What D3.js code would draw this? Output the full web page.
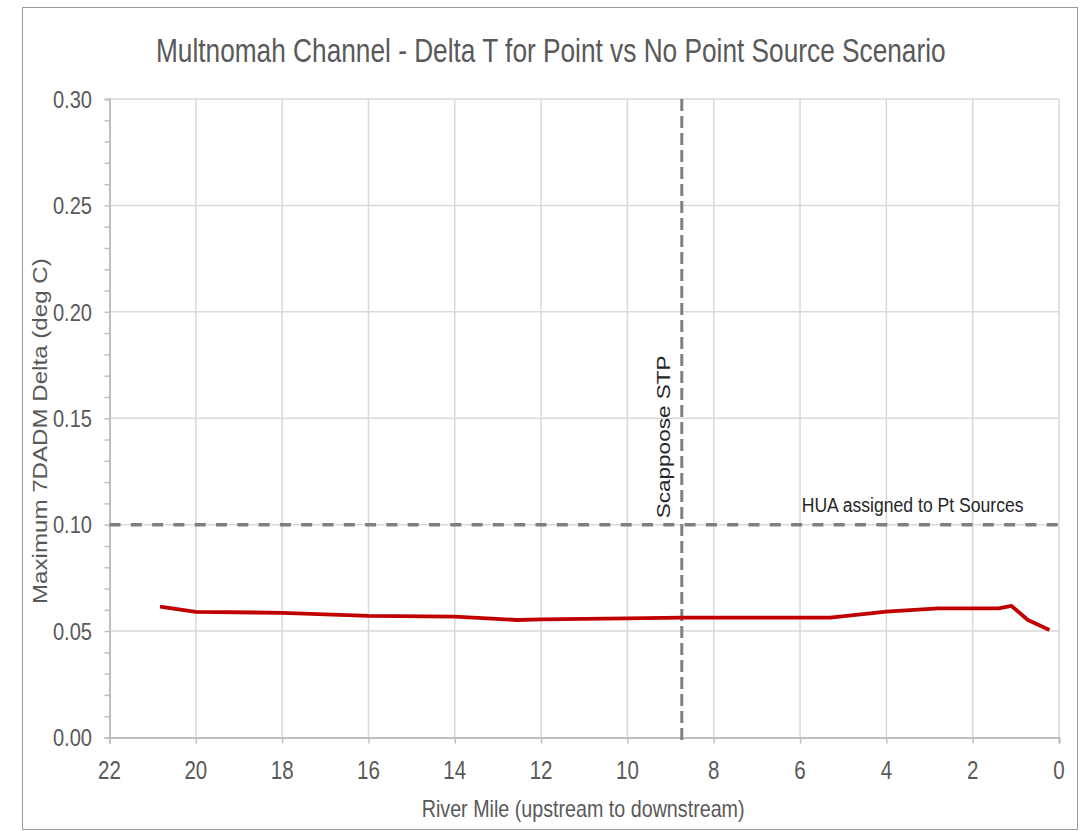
<!DOCTYPE html>
<html><head><meta charset="utf-8">
<script src="https://cdn.jsdelivr.net/npm/d3@7"></script>
<style>body{margin:0;background:#fff}svg{display:block}text{font-family:"Liberation Sans",Arial,sans-serif}</style>
</head><body>
<svg id="c" width="1089" height="831"></svg>
<script>
const riverMile = [20.83, 20.0, 18.0, 16.0, 14.0, 12.56, 12.0, 10.0, 8.74, 6.0, 5.3, 4.0, 2.8, 1.4, 1.1, 0.72, 0.22];
const deltaT    = [0.0615, 0.0590, 0.0586, 0.0571, 0.0568, 0.0552, 0.0555, 0.0560, 0.0563, 0.0563, 0.0563, 0.0591, 0.0607, 0.0607, 0.0618, 0.0552, 0.0505];
const xTicks = [22, 20, 18, 16, 14, 12, 10, 8, 6, 4, 2, 0];
const yTicks = [0, 0.05, 0.10, 0.15, 0.20, 0.25, 0.30];
const yMinor = d3.range(0, 0.3001, 0.01);
const stpMile = 8.74;
const huaValue = 0.10;
const titleText = "Multnomah Channel - Delta T for Point vs No Point Source Scenario";
const xTitle = "River Mile (upstream to downstream)";
const yTitle = "Maximum 7DADM Delta (deg C)";

const svg = d3.select("#c");
const x = d3.scaleLinear().domain([22, 0]).range([109.5, 1059]);
const y = d3.scaleLinear().domain([0, 0.3]).range([737.5, 99]);
const SX = 0.82;
const txt = "#595959";

// place text so that its natural length is scaled to a target length along its own axis
function fitText(g, str, size, fill, target, pre, post) {
  const t = g.append("text").attr("font-size", size).attr("fill", fill).text(str);
  const k = target / t.node().getComputedTextLength();
  t.attr("transform", `${pre} ${post || ""} scale(${k},1)`);
  return t;
}

svg.append("rect").attr("x", 22.5).attr("y", 7.5).attr("width", 1055).attr("height", 822)
  .attr("fill", "#fff").attr("stroke", "#9a9a9a").attr("stroke-width", 1);

// gridlines
svg.append("g").selectAll("line").data(yTicks.slice(1)).join("line")
  .attr("x1", x(22)).attr("x2", x(0)).attr("y1", d => y(d)).attr("y2", d => y(d))
  .attr("stroke", "#d9d9d9").attr("stroke-width", 1.5);
svg.append("g").selectAll("line").data(xTicks.slice(1)).join("line")
  .attr("x1", d => x(d)).attr("x2", d => x(d)).attr("y1", y(0)).attr("y2", y(0.3))
  .attr("stroke", "#d9d9d9").attr("stroke-width", 1.5);

// axes
const yAxis = svg.append("g").attr("transform", `translate(${x(22)},0)`)
  .call(d3.axisLeft(y).tickValues(yMinor).tickSize(5).tickFormat(""));
yAxis.select(".domain").attr("stroke", "#bfbfbf").attr("stroke-width", 2);
yAxis.selectAll(".tick line").attr("stroke", "#bfbfbf").attr("stroke-width", 1.5);

const xAxis = svg.append("g").attr("transform", `translate(0,${y(0)})`)
  .call(d3.axisBottom(x).tickValues(xTicks).tickSize(6).tickFormat(""));
xAxis.select(".domain").attr("stroke", "#bfbfbf").attr("stroke-width", 2);
xAxis.selectAll(".tick line").attr("stroke", "#bfbfbf").attr("stroke-width", 1.5);

// tick labels
svg.append("g").selectAll("text").data(yTicks).join("text")
  .attr("transform", d => `translate(92,${y(d) + 8.7}) scale(${SX},1)`)
  .attr("text-anchor", "end").attr("font-size", 24.5).attr("fill", txt)
  .text(d => d3.format(".2f")(d));
svg.append("g").selectAll("text").data(xTicks).join("text")
  .attr("transform", d => `translate(${x(d)},778.5) scale(${SX},1)`)
  .attr("text-anchor", "middle").attr("font-size", 25).attr("fill", txt)
  .text(d => d);

// titles
fitText(svg, titleText, 34, txt, 790, "translate(156,61.7)");
fitText(svg, xTitle, 23, txt, 323, "translate(421.7,816.7)");
fitText(svg, yTitle, 24, txt, 346, `translate(47,604) scale(${SX},1)`, "rotate(-90)");

// reference lines
svg.append("line").attr("x1", x(22)).attr("x2", x(0)).attr("y1", y(huaValue)).attr("y2", y(huaValue))
  .attr("stroke", "#7f7f7f").attr("stroke-width", 3.5).attr("stroke-dasharray", "11,10.3");
svg.append("line").attr("x1", x(stpMile)).attr("x2", x(stpMile)).attr("y1", y(0.3)).attr("y2", y(0) + 3)
  .attr("stroke", "#7f7f7f").attr("stroke-width", 3).attr("stroke-dasharray", "12,5");

fitText(svg, "Scappoose  STP", 22, "#262626", 163, `translate(670,518.3) scale(${SX},1)`, "rotate(-90)");
fitText(svg, "HUA assigned to Pt Sources", 21, "#262626", 222, "translate(801.7,511.7)");

// data line
const pts = riverMile.map((m, i) => [m, deltaT[i]]);
svg.append("path").datum(pts)
  .attr("d", d3.line().x(d => x(d[0])).y(d => y(d[1])))
  .attr("fill", "none").attr("stroke", "#c00000").attr("stroke-width", 3.8)
  .attr("stroke-linejoin", "round");
</script>
</body></html>
